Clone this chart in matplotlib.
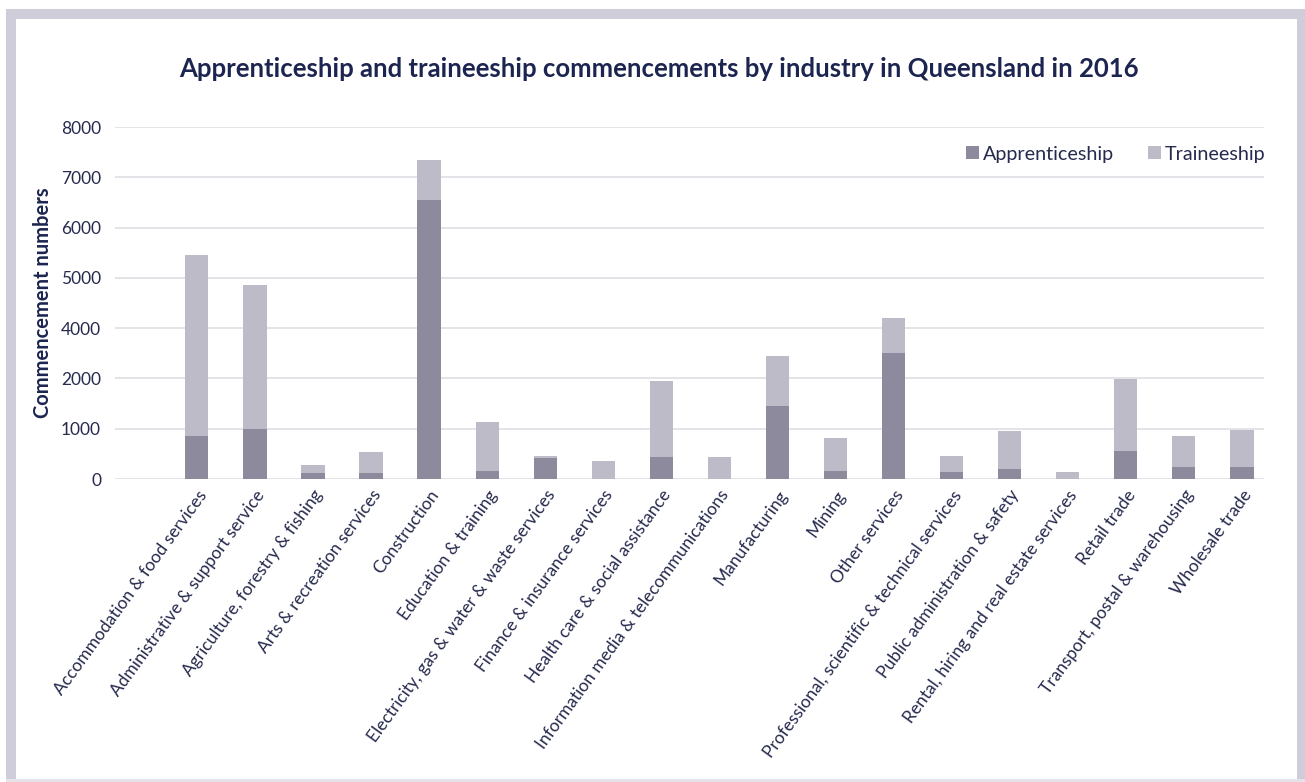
import matplotlib
matplotlib.use("Agg")
import matplotlib.pyplot as plt
from matplotlib.patches import Rectangle
import numpy as np

industries = [
    "Accommodation & food services",
    "Administrative & support service",
    "Agriculture, forestry & fishing",
    "Arts & recreation services",
    "Construction",
    "Education & training",
    "Electricity, gas & water & waste services",
    "Finance & insurance services",
    "Health care & social assistance",
    "Information media & telecommunications",
    "Manufacturing",
    "Mining",
    "Other services",
    "Professional, scientific & technical services",
    "Public administration & safety",
    "Rental, hiring and real estate services",
    "Retail trade",
    "Transport, postal & warehousing",
    "Wholesale trade",
]
apprenticeship = [860, 1000, 127, 120, 5550, 160, 420, 0, 440, 0,
                  1460, 160, 2500, 140, 200, 0, 560, 240, 240]
traineeship = [3600, 2860, 153, 420, 790, 980, 40, 360, 1500, 440,
               980, 660, 700, 320, 760, 140, 1420, 620, 740]

ytick_values = [0, 1000, 2000, 3000, 4000, 5000, 6000, 7000]
ytick_labels = ["0", "1000", "2000", "4000", "5000", "6000", "7000", "8000"]

title = "Apprenticeship and traineeship commencements by industry in Queensland in 2016"
ylabel = "Commencement numbers"

c_app = "#8e8a9e"
c_tra = "#bdbbc8"
c_text = "#262a4d"
c_title = "#1c2450"
c_grid = "#e2e1e6"
c_frame = "#cfcdd9"

plt.rcParams["font.family"] = ["Lato", "DejaVu Sans"]

W, H = 1305, 782
fig = plt.figure(figsize=(W / 100, H / 100), dpi=100)
fig.patch.set_facecolor("white")

# grey frame around the chart
def px_rect(x0, y0, x1, y1, color):
    fig.patches.append(Rectangle((x0 / W, 1 - y1 / H), (x1 - x0) / W, (y1 - y0) / H,
                                 transform=fig.transFigure, facecolor=color,
                                 edgecolor="none", zorder=0))
px_rect(6, 9, 1305, 19, c_frame)
px_rect(6, 9, 16, 782, c_frame)
px_rect(1297, 9, 1305, 782, c_frame)
px_rect(6, 779, 1305, 782, "#e4e3ea")

ax = fig.add_axes([115 / W, 1 - 479 / H, (1264 - 115) / W, (479 - 127) / H])
ax.set_facecolor("none")

x = np.arange(len(industries))
ax.bar(x, apprenticeship, width=0.4, color=c_app, label="Apprenticeship", zorder=3)
ax.bar(x, traineeship, width=0.4, bottom=apprenticeship, color=c_tra,
       label="Traineeship", zorder=3)

ax.set_xlim(-1.41, 18.38)
ax.set_ylim(0, 7000)
ax.set_yticks(ytick_values)
ax.set_yticklabels(ytick_labels)
ax.yaxis.grid(True, color=c_grid, linewidth=1.3, zorder=0)
ax.set_axisbelow(True)
for s in ax.spines.values():
    s.set_visible(False)
ax.tick_params(axis="both", length=0, colors=c_text, labelsize=12.5)
ax.tick_params(axis="y", pad=10)
ax.tick_params(axis="x", pad=6)

ax.set_xticks(x)
ax.set_xticklabels(industries, rotation=54, ha="right", va="top",
                   rotation_mode="anchor", fontsize=12.5, color=c_text)

fig.text(43 / W, 1 - 303 / H, ylabel, rotation=90, ha="center", va="center",
         fontsize=14.5, fontweight="bold", color=c_title)

fig.text(658.5 / W, 1 - 69 / H, title, ha="center", va="center", fontsize=18.5,
         fontweight="bold", color=c_title)

leg = ax.legend(loc="upper right", bbox_to_anchor=(1.0165, 0.997), frameon=False,
                ncol=2, fontsize=14.2, handlelength=0.65, handleheight=0.65,
                handletextpad=0.2, columnspacing=1.7)
for t in leg.get_texts():
    t.set_color(c_text)

fig.savefig("out.png", dpi=100)
